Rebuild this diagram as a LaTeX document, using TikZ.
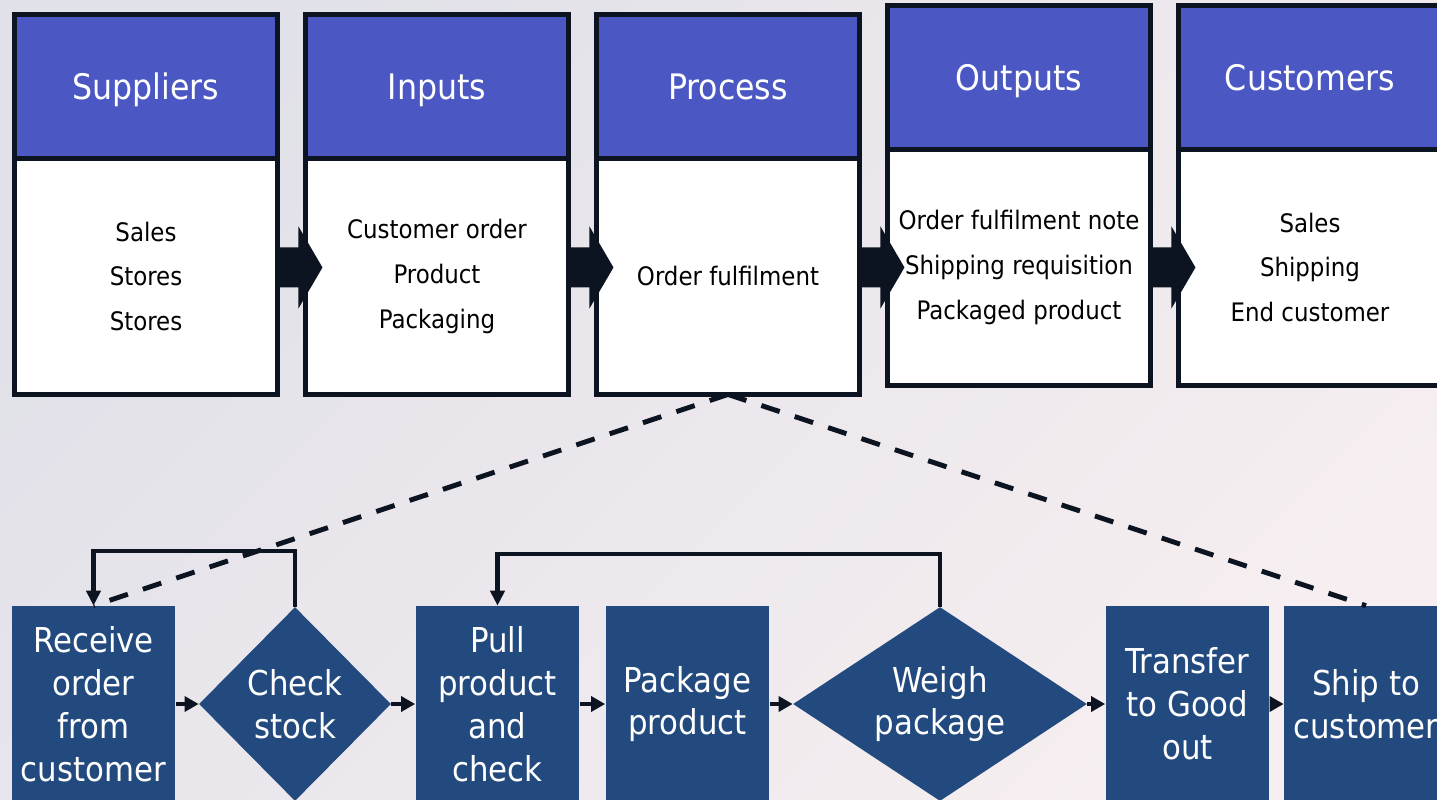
\documentclass[tikz,border=0pt]{standalone}
\usepackage{fontspec}
\IfFontExistsTF{DejaVu Sans Condensed}{\setmainfont{DejaVu Sans Condensed}}{\setmainfont{DejaVu Sans}}
\usepackage{xcolor}
\definecolor{HeadBlue}{HTML}{4B57C3}
\definecolor{StepBlue}{HTML}{234A7E}
\definecolor{Ink}{HTML}{0B1420}
\definecolor{BgTop}{HTML}{E1E1E9}
\definecolor{BgBottom}{HTML}{F6EEF0}
\usepackage{tikz}
\usetikzlibrary{shapes.geometric, arrows.meta, positioning}
\tikzset{
  headbox/.style={rectangle, draw=Ink, line width=3pt, fill=HeadBlue, text=white, outer sep=0pt, minimum width=5.26cm, minimum height=2.88cm, text depth=0pt, font=\fontsize{20}{24}\selectfont},
  listbox/.style={rectangle, draw=Ink, line width=3pt, fill=white, outer sep=0pt, minimum width=5.26cm, minimum height=4.72cm, align=center, font=\fontsize{14.5}{25.5}\selectfont},
  stepbox/.style={rectangle, fill=StepBlue, text=white, minimum width=3.28cm, minimum height=3.92cm, align=center, font=\fontsize{19.5}{24.4}\selectfont},
  decisionbox/.style={diamond, fill=StepBlue, text=white, inner sep=0pt, minimum height=3.88cm, align=center, font=\fontsize{19.5}{24.4}\selectfont},
  steparrow/.style={-{Triangle[length=8pt,width=8.5pt]}, line width=2.5pt, Ink},
  looparrow/.style={-{Triangle[length=8.5pt,width=8pt]}, line width=2.3pt, Ink},
  dashline/.style={line width=2.8pt, Ink, dash pattern=on 11pt off 9pt}
}

\begin{document}
\begin{tikzpicture}[x=0.02cm, y=-0.02cm]
  % Background
  \shade[top color=BgTop, bottom color=BgBottom, shading angle=45] (0,0) rectangle (1437,799);
  \useasboundingbox (0,0) rectangle (1437,799);

  % SIPOC columns
  \node[headbox] (supHead) at (146,86.5) {Suppliers};
  \node[listbox, below=0pt of supHead] (supBody) {Sales\\Stores\\Stores};
  \node[headbox] (inpHead) at (437,86.5) {Inputs};
  \node[listbox, below=0pt of inpHead] (inpBody) {Customer order\\Product\\Packaging};
  \node[headbox] (proHead) at (728,86.5) {Process};
  \node[listbox, below=0pt of proHead] (proBody) {Order fulfilment};
  \node[headbox] (outHead) at (1019,77.5) {Outputs};
  \node[listbox, below=0pt of outHead] (outBody) {Order fulfilment note\\Shipping requisition\\Packaged product};
  \node[headbox] (cusHead) at (1310,77.5) {Customers};
  \node[listbox, below=0pt of cusHead] (cusBody) {Sales\\Shipping\\End customer};

  % Block arrows
  \foreach \src in {sup, inp, pro, out} {
    \fill[Ink] (\src Body.east |- outBody.east) ++(0,-20) -- ++(21,0) -- ++(0,-21) -- ++(24,41) -- ++(-24,41) -- ++(0,-21) -- ++(-21,0) -- cycle;
  }

  % Process steps
  \node[stepbox] (receive) at (93.5,704) {Receive\\order\\from\\customer};
  \node[decisionbox, aspect=1, minimum width=3.84cm] (check) at (295,704) {Check\\stock};
  \node[stepbox] (pull) at (497.5,704) {Pull\\product\\and\\check};
  \node[stepbox] (package) at (687.5,704) {Package\\product};
  \node[decisionbox, aspect=1.6, minimum width=5.88cm] (weigh) at (940,704) {Weigh\\package};
  \node[stepbox] (transfer) at (1187.5,704) {Transfer\\to Good\\out};
  \node[stepbox] (ship) at (1366,704) {Ship to\\customer};

  \draw[steparrow] (receive) -- (check);
  \draw[steparrow] (check) -- (pull);
  \draw[steparrow] (pull) -- (package);
  \draw[steparrow] (package) -- (weigh);
  \draw[steparrow] (weigh) -- (transfer);
  \draw[steparrow] (transfer) -- (ship);

  % Loops back
  \draw[looparrow] (check.north) -- ++(0,-56) -| (receive.north);
  \draw[looparrow] (weigh.north) -- ++(0,-53) -| (pull.north);

  % Zoom into process
  \draw[dashline] (proBody.south) -- (receive.north);
  \draw[dashline] (proBody.south) -- (ship.north);
\end{tikzpicture}
\end{document}
